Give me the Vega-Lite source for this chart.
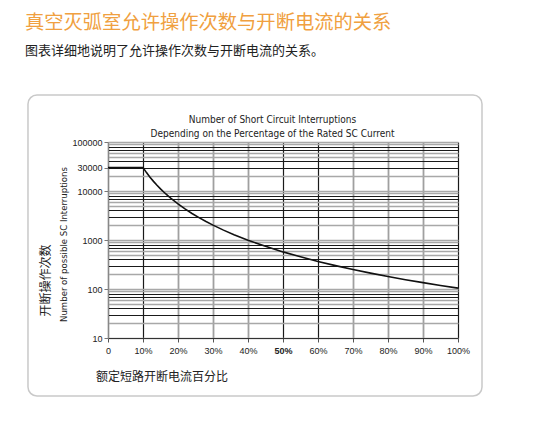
{
  "$schema": "https://vega.github.io/schema/vega-lite/v6.json",
  "width": 350,
  "height": 196,
  "autosize": {"type": "none"},
  "padding": {"left": 108, "top": 142, "right": 78, "bottom": 91},
  "background": "white",
  "config": {"view": {"stroke": null}},
  "title": {
    "text": "真空灭弧室允许操作次数与开断电流的关系",
    "subtitle": "图表详细地说明了允许操作次数与开断电流的关系。",
    "anchor": "start",
    "frame": "group",
    "dx": -83,
    "offset": 36,
    "font": "Noto Sans CJK SC",
    "fontSize": 19.3,
    "fontWeight": "normal",
    "color": "#F0A040",
    "subtitleFont": "Noto Sans CJK SC",
    "subtitleFontSize": 13,
    "subtitleColor": "#222222",
    "subtitlePadding": 12
  },
  "layer": [
    {
      "data": {"values": [{}]},
      "mark": {"type": "rect", "fillOpacity": 0, "stroke": "#c9c9c9", "strokeWidth": 1.5, "cornerRadius": 9, "clip": false},
      "encoding": {
        "x": {
          "datum": -22.86,
          "type": "quantitative",
          "scale": {"domain": [0, 100], "nice": false, "zero": false},
          "axis": {
            "orient": "top",
            "labels": false,
            "ticks": false,
            "domain": false,
            "grid": false,
            "title": ["Number of Short Circuit Interruptions", "Depending on the Percentage of the Rated SC Current"],
            "titleX": 164,
            "titleY": -23,
            "titleBaseline": "middle",
            "titleAlign": "center",
            "titleAnchor": null,
            "titleFont": "Liberation Sans Narrow, DejaVu Sans Condensed, sans-serif",
            "titleFontSize": 10,
            "titleFontWeight": "normal",
            "titleColor": "#222222",
            "titleLineHeight": 14
          }
        },
        "x2": {"datum": 106.86},
        "y": {
          "datum": 910000,
          "type": "quantitative",
          "scale": {"type": "log", "domain": [10, 100000], "nice": false},
          "axis": {
            "orient": "left",
            "labels": false,
            "ticks": false,
            "domain": false,
            "grid": false,
            "title": "Number of possible SC Interruptions",
            "titleX": -45,
            "titleY": 102,
            "titleAngle": 270,
            "titleBaseline": "middle",
            "titleAlign": "center",
            "titleFont": "Liberation Sans Narrow, DejaVu Sans Condensed, sans-serif",
            "titleFontSize": 9.5,
            "titleFontWeight": "normal",
            "titleColor": "#222222"
          }
        },
        "y2": {"datum": 0.655}
      }
    },
    {
      "data": {
        "values": [
          {"pct": 0, "n": 30000},
          {"pct": 10, "n": 30000},
          {"pct": 11, "n": 23730},
          {"pct": 12, "n": 19158},
          {"pct": 13, "n": 15735},
          {"pct": 14, "n": 13113},
          {"pct": 15, "n": 11065},
          {"pct": 16, "n": 9440},
          {"pct": 17, "n": 8132},
          {"pct": 18, "n": 7065},
          {"pct": 19, "n": 6185},
          {"pct": 20, "n": 5453},
          {"pct": 22, "n": 4313},
          {"pct": 24, "n": 3481},
          {"pct": 26, "n": 2859},
          {"pct": 28, "n": 2383},
          {"pct": 30, "n": 2011},
          {"pct": 33, "n": 1591},
          {"pct": 36, "n": 1284},
          {"pct": 40, "n": 991},
          {"pct": 45, "n": 742},
          {"pct": 50, "n": 572},
          {"pct": 55, "n": 453},
          {"pct": 60, "n": 365},
          {"pct": 65, "n": 300},
          {"pct": 70, "n": 250},
          {"pct": 75, "n": 211},
          {"pct": 80, "n": 180},
          {"pct": 85, "n": 155},
          {"pct": 90, "n": 135},
          {"pct": 95, "n": 118},
          {"pct": 100, "n": 104}
        ]
      },
      "mark": {"type": "line", "color": "#111111", "strokeWidth": 1.6, "interpolate": "linear"},
      "encoding": {
        "x": {
          "field": "pct",
          "type": "quantitative",
          "scale": {"domain": [0, 100], "nice": false, "zero": false},
          "axis": {
            "orient": "bottom",
            "values": [0, 10, 20, 30, 40, 50, 60, 70, 80, 90, 100],
            "labelExpr": "datum.value == 0 ? '0' : datum.value + '%'",
            "labelFont": "Liberation Sans",
            "labelFontSize": 9,
            "labelColor": "#222222",
            "labelFontWeight": {"condition": {"test": "datum.value == 50", "value": "bold"}, "value": "normal"},
            "labelPadding": 4,
            "labelFlush": false,
            "labelOverlap": false,
            "tickSize": 4,
            "tickColor": "#555555",
            "domainColor": "#333333",
            "grid": true,
            "gridColor": {"condition": {"test": "indexof([10, 50, 60, 100], datum.value) >= 0", "value": "#1a1a1a"}, "value": "#a0a0a0"},
            "gridWidth": {"condition": {"test": "indexof([10, 50, 60, 100], datum.value) >= 0", "value": 1.2}, "value": 1.8},
            "title": "额定短路开断电流百分比",
            "titleFont": "Noto Sans CJK SC",
            "titleFontSize": 12,
            "titleFontWeight": "normal",
            "titleColor": "#222222",
            "titleX": 53.5,
            "titleY": 38,
            "titleAlign": "center",
            "titleBaseline": "middle",
            "titleAnchor": null
          }
        },
        "y": {
          "field": "n",
          "type": "quantitative",
          "scale": {"type": "log", "domain": [10, 100000], "nice": false},
          "axis": {
            "orient": "left",
            "values": [10, 20, 30, 40, 50, 60, 70, 80, 90, 100, 200, 300, 400, 500, 600, 700, 800, 900, 1000, 2000, 3000, 4000, 5000, 6000, 7000, 8000, 9000, 10000, 20000, 30000, 40000, 50000, 60000, 70000, 80000, 90000, 100000],
            "labelExpr": "indexof([10, 100, 1000, 10000, 30000, 100000], datum.value) >= 0 ? '' + datum.value : ''",
            "labelFont": "Liberation Sans",
            "labelFontSize": 9,
            "labelColor": "#222222",
            "labelPadding": 2,
            "labelOverlap": false,
            "labelFlush": false,
            "tickSize": 4,
            "tickColor": "#777777",
            "tickOpacity": {"condition": {"test": "indexof([10, 100, 1000, 10000, 30000, 100000], datum.value) >= 0", "value": 1}, "value": 0},
            "domainColor": "#888888",
            "grid": true,
            "gridColor": {"condition": {"test": "indexof([30, 40, 70, 80, 300, 400, 700, 800, 3000, 4000, 7000, 8000, 30000, 40000, 70000, 80000], datum.value) >= 0", "value": "#1a1a1a"}, "value": "#a8a8a8"},
            "gridWidth": {"condition": {"test": "indexof([30, 40, 70, 80, 300, 400, 700, 800, 3000, 4000, 7000, 8000, 30000, 40000, 70000, 80000], datum.value) >= 0", "value": 1}, "value": 1.6},
            "title": "开断操作次数",
            "titleFont": "Noto Sans CJK SC",
            "titleFontSize": 12,
            "titleFontWeight": "normal",
            "titleColor": "#222222",
            "titleX": -63,
            "titleY": 138,
            "titleAngle": 270,
            "titleAlign": "center",
            "titleBaseline": "middle",
            "titleAnchor": null
          }
        }
      }
    }
  ],
  "resolve": {"axis": {"x": "independent", "y": "independent"}}
}
